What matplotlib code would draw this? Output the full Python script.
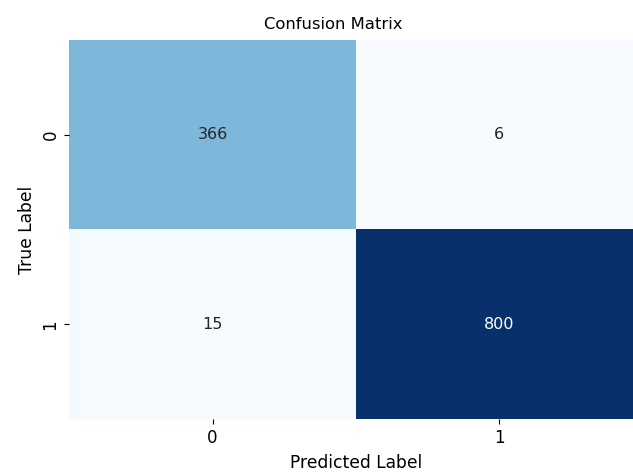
import numpy as np
import matplotlib
matplotlib.use("Agg")
import matplotlib.pyplot as plt
import seaborn as sns

labels = ["0", "1"]
cm = np.array([[366, 6],
               [15, 800]])

fig = plt.figure(figsize=(6.33, 4.72), dpi=100)
# right edge runs a little past the canvas, as in the reference
ax = fig.add_axes([0.1095, 0.1123, 0.905, 0.803])
sns.heatmap(cm, annot=True, fmt="d", cmap="Blues", cbar=False,
            xticklabels=labels, yticklabels=labels, ax=ax,
            annot_kws={"fontsize": 11.5})
ax.tick_params(labelsize=12)
ax.set_title("Confusion Matrix", fontsize=11.8, x=0.461, pad=8)
ax.set_xlabel("Predicted Label", fontsize=12.3, labelpad=5)
ax.set_ylabel("True Label", fontsize=12.3)
fig.savefig("out.png", dpi=100)
